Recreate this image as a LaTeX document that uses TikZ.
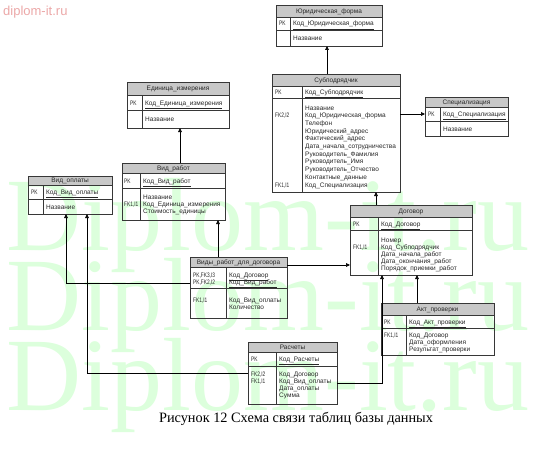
\documentclass[tikz,border=0pt]{standalone}
\usepackage{fontspec}
\setmainfont{Liberation Serif}
\newfontfamily\tblfont{Liberation Sans}
\usetikzlibrary{arrows.meta}
\definecolor{hdrgray}{RGB}{200,200,200}
\definecolor{boxline}{RGB}{55,55,55}
\definecolor{txt}{RGB}{40,40,40}
\definecolor{wmgreen}{RGB}{220,255,220}
\definecolor{wmpink}{RGB}{236,168,168}
\tikzset{
  tframe/.style={draw=boxline, line width=0.6pt, inner sep=0pt, outer sep=0pt, anchor=north west},
  tinner/.style={draw=boxline, line width=0.5pt},
  tfont/.style={font=\tblfont\fontsize{6.5}{7.5}\selectfont, text=txt, inner sep=0pt},
  ttitle/.style={tfont, anchor=base},
  tkey/.style={tfont, anchor=base west, xscale=0.74},
  tfield/.style={tfont, anchor=base west},
  rel/.style={draw=black, line width=0.6pt, -{Triangle[length=4pt,width=3.6pt]}},
  wm/.style={font=\fontsize{104}{104}\selectfont, text=wmgreen, anchor=base, inner sep=0pt},
  caption/.style={font=\fontsize{14.3}{16}\selectfont, text=black, anchor=base, inner sep=0pt}
}
% name, L, T, R, header bottom, pk bottom, B, key x, title
\newcommand\ertable[9]{%
  \fill[hdrgray] (#2,#3) rectangle (#4,#5);
  \node[tframe, minimum width={(#4-#2)*1pt}, minimum height={(#7-#3)*1pt}] (#1) at (#2,#3) {};
  \draw[tinner] (#2,#5) -- (#4,#5) (#2,#6) -- (#4,#6) (#8,#5) -- (#8,#7);
  \node[ttitle] (#1-title) at ({(#2+#4)/2},{(#3+#5)/2+2.3}) {#9};
}
\begin{document}
\begin{tikzpicture}[x=1pt,y=-1pt]
\useasboundingbox (0,0) rectangle (540,460);
\fill[white] (0,0) rectangle (540,460);
% watermark
\node[font=\tblfont\fontsize{13}{15}\selectfont, text=wmpink, anchor=base west, inner sep=0pt] (wmtop) at (3,15.5) {diplom-it.ru};
\node[wm] (wm1) at (268,250) {Diplom-it.ru};
\node[wm] (wm2) at (268,330) {Diplom-it.ru};
\node[wm] (wm3) at (268,410) {Diplom-it.ru};

% ---- tables
\ertable{yur}{276}{5}{382}{17}{30}{46}{290}{Юридическая\_форма}
\node[tkey] (yur-k1) at (279,26) {PK};
\node[tfield] (yur-p1) at (293,26) {\underline{Код\_Юридическая\_форма}};
\node[tfield] (yur-f1) at (293,40.5) {Название};

\ertable{ed}{127}{82}{229}{95}{110}{128}{142}{Единица\_измерения}
\node[tkey] (ed-k1) at (130,105) {PK};
\node[tfield] (ed-p1) at (145,105) {\underline{Код\_Единица\_измерения}};
\node[tfield] (ed-f1) at (145,121.5) {Название};

\ertable{sub}{272}{74}{400}{86}{98}{192}{302}{Субподрядчик}
\node[tkey] (sub-k1) at (275,94.5) {PK};
\node[tfield] (sub-p1) at (305,94.5) {\underline{Код\_Субподрядчик}};
\foreach \t [count=\i] in {Название,Код\_Юридическая\_форма,Телефон,Юридический\_адрес,Фактический\_адрес,Дата\_начала\_сотрудничества,Руководитель\_Фамилия,Руководитель\_Имя,Руководитель\_Отчество,Контактные\_данные,Код\_Специализация}
  \node[tfield] (sub-f\i) at (305,{110+7.7*(\i-1)}) {\t};
\node[tkey] (sub-k2) at (275,117.7) {FK2,I2};
\node[tkey] (sub-k3) at (275,187) {FK1,I1};

\ertable{spec}{425}{97}{508}{107}{121}{136}{440}{Специализация}
\node[tkey] (spec-k1) at (428,116.5) {PK};
\node[tfield] (spec-p1) at (443,116.5) {\underline{Код\_Специализация}};
\node[tfield] (spec-f1) at (443,131) {Название};

\ertable{vidopl}{28}{176}{112}{185}{199}{214}{43}{Вид\_оплаты}
\node[tkey] (vidopl-k1) at (31,194.5) {PK};
\node[tfield] (vidopl-p1) at (46,194.5) {\underline{Код\_Вид\_оплаты}};
\node[tfield] (vidopl-f1) at (46,209) {Название};

\ertable{vidrab}{122}{163}{225}{173}{188}{220}{140}{Вид\_работ}
\node[tkey] (vidrab-k1) at (124,183) {PK};
\node[tfield] (vidrab-p1) at (143,183) {\underline{Код\_Вид\_работ}};
\foreach \t [count=\i] in {Название,Код\_Единица\_измерения,Стоимость\_единицы}
  \node[tfield] (vidrab-f\i) at (143,{199+7*(\i-1)}) {\t};
\node[tkey] (vidrab-k2) at (124,206) {FK1,I1};

\ertable{dog}{350}{205}{472}{217}{230}{275}{378}{Договор}
\node[tkey] (dog-k1) at (353,226) {PK};
\node[tfield] (dog-p1) at (381,226) {\underline{Код\_Договор}};
\foreach \t [count=\i] in {Номер,Код\_Субподрядчик,Дата\_начала\_работ,Дата\_окончания\_работ,Порядок\_приемки\_работ}
  \node[tfield] (dog-f\i) at (381,{242+7*(\i-1)}) {\t};
\node[tkey] (dog-k2) at (353,249) {FK1,I1};

\ertable{vrd}{190}{257}{287}{267}{288}{318}{226}{Виды\_работ\_для\_договора}
\node[tkey] (vrd-k1) at (193,277) {PK,FK3,I3};
\node[tkey] (vrd-k2) at (193,284) {PK,FK2,I2};
\node[tfield] (vrd-p1) at (229,277) {\underline{Код\_Договор}};
\node[tfield] (vrd-p2) at (229,284) {\underline{Код\_Вид\_работ}};
\node[tkey] (vrd-k3) at (193,302) {FK1,I1};
\node[tfield] (vrd-f1) at (229,302) {Код\_Вид\_оплаты};
\node[tfield] (vrd-f2) at (229,309) {Количество};

\ertable{akt}{381}{303}{494}{315}{328}{355}{406}{Акт\_проверки}
\node[tkey] (akt-k1) at (384,324) {PK};
\node[tfield] (akt-p1) at (409,324) {\underline{Код\_Акт\_проверки}};
\foreach \t [count=\i] in {Код\_Договор,Дата\_оформления,Результат\_проверки}
  \node[tfield] (akt-f\i) at (409,{337+7*(\i-1)}) {\t};
\node[tkey] (akt-k2) at (384,337) {FK1,I1};

\ertable{ras}{248}{342}{337}{352}{366}{404}{276}{Расчеты}
\node[tkey] (ras-k1) at (251,361.5) {PK};
\node[tfield] (ras-p1) at (279,361.5) {\underline{Код\_Расчеты}};
\foreach \t [count=\i] in {Код\_Договор,Код\_Вид\_оплаты,Дата\_оплаты,Сумма}
  \node[tfield] (ras-f\i) at (279,{376+7*(\i-1)}) {\t};
\node[tkey] (ras-k2) at (251,376) {FK2,I2};
\node[tkey] (ras-k3) at (251,383) {FK1,I1};

% ---- connectors
\coordinate (c1) at (327,0);
\coordinate (c2) at (180,0);
\coordinate (c3) at (0,114);
\coordinate (c4) at (376,0);
\coordinate (c5) at (218,0);
\coordinate (c6) at (0,265);
\coordinate (c7) at (66,283);
\coordinate (c8) at (87,373);
\coordinate (c9) at (382,383);
\coordinate (c10) at (417,0);
\draw[rel] (sub.north -| c1) -- (yur.south -| c1);
\draw[rel] (vidrab.north -| c2) -- (ed.south -| c2);
\draw[rel] (sub.east |- c3) -- (spec.west |- c3);
\draw[rel] (dog.north -| c4) -- (sub.south -| c4);
\draw[rel] (vrd.north -| c5) -- (vidrab.south -| c5);
\draw[rel] (vrd.east |- c6) -- (dog.west |- c6);
\draw[rel] (vrd.west |- c7) -| (vidopl.south -| c7);
\draw[rel] (ras.west |- c8) -| (vidopl.south -| c8);
\draw[rel] (ras.east |- c9) -| (dog.south -| c9);
\draw[rel] (akt.north -| c10) -- (dog.south -| c10);

% caption
\node[caption] (cap) at (296,422) {Рисунок 12 Схема связи таблиц базы данных};
\end{tikzpicture}
\end{document}
